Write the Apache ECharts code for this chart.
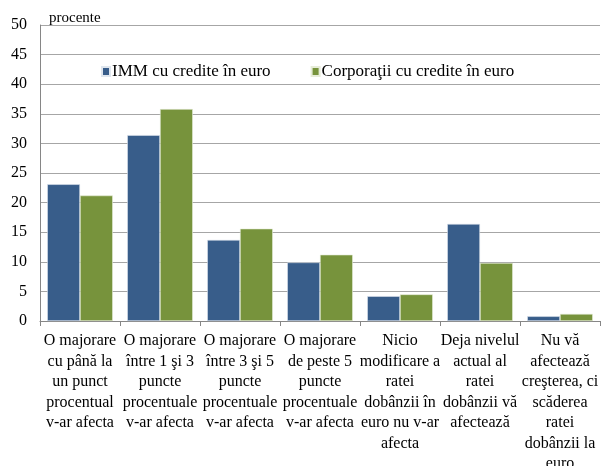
<!DOCTYPE html>
<html>
<head>
<meta charset="utf-8">
<script src="https://cdn.jsdelivr.net/npm/echarts@6/dist/echarts.min.js"></script>
<style>
  html, body { margin: 0; padding: 0; background: #fff; }
  #chart { width: 602px; height: 466px; }
</style>
</head>
<body>
<div id="chart"></div>
<script>
var categories = [
    'O majorare\ncu până la\nun punct\nprocentual\nv-ar afecta',
    'O majorare\nîntre 1 şi 3\npuncte\nprocentuale\nv-ar afecta',
    'O majorare\nîntre 3 şi 5\npuncte\nprocentuale\nv-ar afecta',
    'O majorare\nde peste 5\npuncte\nprocentuale\nv-ar afecta',
    'Nicio\nmodificare a\nratei\ndobânzii în\neuro nu v-ar\nafecta',
    'Deja nivelul\nactual al\nratei\ndobânzii vă\nafectează',
    'Nu vă\nafectează\ncreşterea, ci\nscăderea\nratei\ndobânzii la\neuro'
];
var seriesNames = ['IMM cu credite în euro', 'Corporaţii cu credite în euro'];
var imm = [23.1, 31.4, 13.7, 9.9, 4.2, 16.4, 0.8];
var corporatii = [21.2, 35.8, 15.6, 11.2, 4.5, 9.8, 1.2];
var yTicks = { min: 0, max: 50, interval: 5 };

var font = '"Liberation Serif", "DejaVu Serif", serif';

var option = {
    animation: false,
    textStyle: { fontFamily: font },
    title: {
        text: 'procente',
        left: 44,
        top: 6,
        textStyle: { fontFamily: font, fontSize: 15, fontWeight: 'normal', color: '#000' }
    },
    legend: {
        left: 96,
        top: 58,
        itemWidth: 8,
        itemHeight: 9,
        itemGap: 40,
        icon: 'rect',
        data: seriesNames,
        textStyle: { fontFamily: font, fontSize: 17, color: '#000', padding: [0, 0, 0, -3] }
    },
    color: ['#385d8a', '#77933c'],
    grid: { left: 40, right: 2, top: 25, bottom: 145, containLabel: false, outerBoundsMode: 'none' },
    xAxis: {
        type: 'category',
        data: categories,
        axisLine: { lineStyle: { color: '#868686' } },
        axisTick: { show: true, length: 5, lineStyle: { color: '#868686' } },
        axisLabel: {
            interval: 0,
            margin: 10,
            fontFamily: font,
            fontSize: 16,
            lineHeight: 20.5,
            color: '#000'
        }
    },
    yAxis: {
        type: 'value',
        min: yTicks.min,
        max: yTicks.max,
        interval: yTicks.interval,
        axisLine: { show: true, lineStyle: { color: '#868686' } },
        axisTick: { show: false },
        axisLabel: { margin: 13, fontFamily: font, fontSize: 16, color: '#000' },
        splitLine: { show: true, lineStyle: { color: '#a6a6a6' } }
    },
    series: [
        {
            name: seriesNames[0],
            type: 'bar',
            barWidth: '41%',
            barGap: '0%',
            itemStyle: { borderColor: '#dfe6ee', borderWidth: 0.6 },
            data: imm
        },
        {
            name: seriesNames[1],
            type: 'bar',
            barWidth: '41%',
            barGap: '0%',
            itemStyle: { borderColor: '#e6ecd8', borderWidth: 0.6 },
            data: corporatii
        }
    ]
};

var myChart = echarts.init(document.getElementById('chart'));
myChart.setOption(option);
</script>
</body>
</html>
